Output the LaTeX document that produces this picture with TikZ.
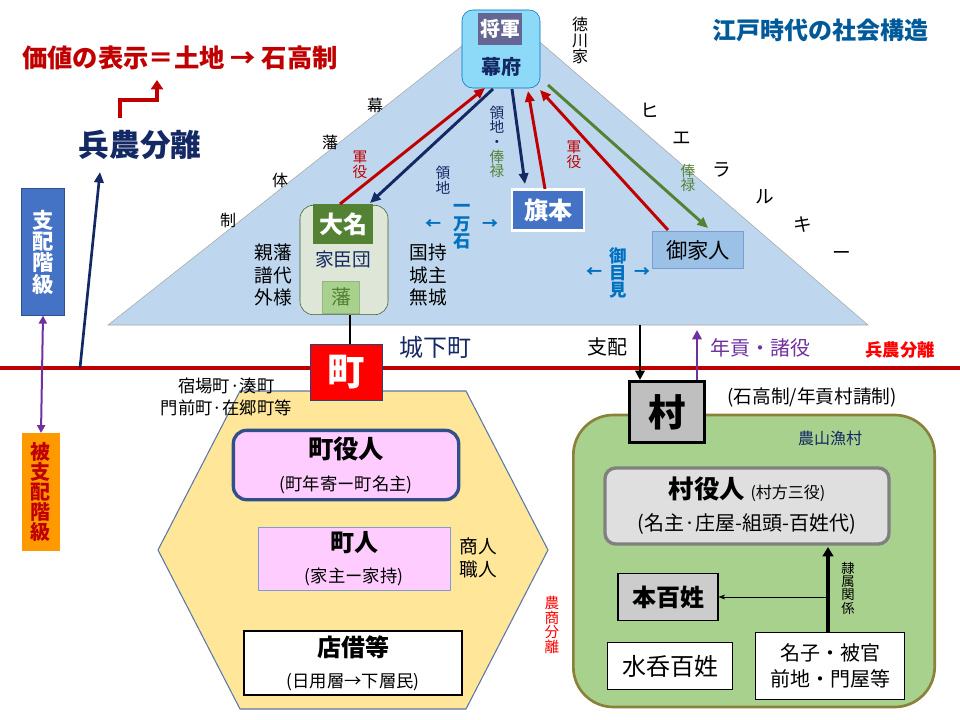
\documentclass[tikz,border=0pt]{standalone}
\usepackage{fontspec}
\setmainfont{Noto Sans CJK JP}
\usetikzlibrary{positioning,arrows.meta}
\newcommand{\fs}[1]{\fontsize{#1}{#1}\selectfont}
\definecolor{navy}{RGB}{20,40,100}
\definecolor{darkred}{RGB}{192,0,0}
\definecolor{pyramid}{RGB}{190,215,238}
\definecolor{olive}{RGB}{84,130,53}
\definecolor{gokcol}{RGB}{155,194,230}
\definecolor{hatcol}{RGB}{68,114,196}
\definecolor{vilgreen}{RGB}{169,209,142}
\definecolor{pinkbox}{RGB}{255,204,255}
\definecolor{hexcol}{RGB}{255,230,153}
\definecolor{purp}{RGB}{112,48,160}
\definecolor{linkblue}{RGB}{0,112,192}
\begin{document}
\begin{tikzpicture}[x=0.75pt,y=-0.75pt,
    vtext/.style={align=center,inner sep=0pt},
    plainbox/.style={draw,thick,align=center,inner sep=0pt},
    harrow/.style={-{Triangle[length=8pt,width=7pt]},line width=2.2pt}]
    \useasboundingbox (0,0) rectangle (960,720);
    % 背景
    \fill[pyramid,draw=gray!70] (108,325) -- (505,12) -- (868,325) -- cycle;
    \draw[darkred,line width=3pt] (0,368) -- (960,368);

    % 将軍・幕府
    \node[draw=linkblue,fill=cyan!45,rounded corners=8pt,minimum width=58.5pt,minimum height=58.5pt] (bakufu) at (501,49) {};
    \node[fill=black!70!blue!60,text=white,minimum width=33pt,minimum height=24pt,inner sep=0pt] (shogun) at (500,29) {\fs{15}\bfseries 将軍};
    \node[text=navy] at (501,67) {\fs{15}\bfseries 幕府};
    \node[vtext,font=\fs{12}] (tokugawa) at (580,40) {徳\\川\\家};
    \node[text=linkblue!80!black] (title) at (820,30) {\fs{18}\bfseries 江戸時代の社会構造};

    % 左上
    \node[text=darkred] (value) at (180,58) {\fs{19}\bfseries 価値の表示＝土地 → 石高制};
    \node[text=navy] (heino) at (140,145) {\fs{23}\bfseries 兵農分離};
    \draw[darkred,line width=2.5pt,-{Triangle[length=7pt,width=9pt]}] (120,118) -- (120,100) -- (157,100) -- (157,80);
    \coordinate (hstart) at (80,368);
    \coordinate (hend) at (100,172);
    \draw[navy,harrow,line width=2pt] (hstart) -- (hend);
    \node[fill=hatcol,text=white,vtext,font=\fs{16}\bfseries,minimum width=32pt,minimum height=95pt,draw=hatcol!70!black] (shihai) at (43,252) {支\\配\\階\\級};
    \node[fill=orange!80!yellow,text=darkred,vtext,font=\fs{15}\bfseries,minimum width=29pt,minimum height=88pt] (hishihai) at (41,492) {被\\支\\配\\階\\級};
    \draw[purp,line width=1.5pt,{Triangle[length=6pt,width=6pt]}-{Triangle[length=6pt,width=6pt]}] (shihai.south) -- (hishihai.north);

    % 幕藩体制 / ヒエラルキー
    \node (b1) at (375,105) {\fs{12}幕};
    \node (b2) at (330,142) {\fs{12}藩};
    \node (b3) at (280,180) {\fs{12}体};
    \node (b4) at (228,220) {\fs{12}制};
    \foreach \c/\x/\y in {ヒ/650/110,エ/682/138,ラ/722/170,ル/765/197,キ/803/225,ー/842/255}
        \node at (\x,\y) {\fs{14}\c};

    % 大名
    \node[draw=olive!70!black,fill=olive!20,rounded corners=10pt,minimum width=66pt,minimum height=82pt] (daimyo) at (344,260) {};
    \node[fill=olive,text=white,minimum width=45pt,minimum height=30pt,inner sep=0pt] (dname) at (343,224) {\fs{18}\bfseries 大名};
    \node[text=navy] (kashin) at (343,259) {\fs{14}家臣団};
    \node[draw=olive!60,fill=vilgreen,text=olive,minimum width=28pt,minimum height=24pt,inner sep=0pt] (han) at (341,297) {\fs{15}藩};
    \node[vtext,font=\fs{14}] (shinpan) at (273,275) {親藩\\[3pt]譜代\\[3pt]外様};
    \node[vtext,font=\fs{14}] (kunimochi) at (428,275) {国持\\[3pt]城主\\[3pt]無城};

    % 旗本・御家人
    \node[fill=hatcol,draw=white,line width=2pt,text=white,minimum width=54pt,minimum height=31pt,inner sep=0pt] (hatamoto) at (548,210) {\fs{18}\bfseries 旗本};
    \node[fill=gokcol,draw=hatcol!70,minimum width=68pt,minimum height=28pt,inner sep=0pt] (gokenin) at (698,250) {\fs{16}御家人};

    % 矢印
    \draw[darkred,harrow] (340,204) -- (485,88);
    \draw[navy,harrow] (493,89) -- (370,203);
    \draw[navy,harrow] (512,89) -- (525,184);
    \draw[darkred,harrow] (545,189) -- (528,91);
    \draw[darkred,harrow] (668,230) -- (540,90);
    \draw[olive,harrow] (548,85) -- (708,228);
    \node[vtext,text=darkred,font=\fs{11}] at (360,165) {軍\\役};
    \node[vtext,text=navy,font=\fs{11}] at (443,180) {領\\地};
    \node[vtext,font=\fs{11}] at (497,142) {\color{navy}領\\\color{navy}地\\\color{navy}・\\\color{olive}俸\\\color{olive}禄};
    \node[vtext,text=darkred,font=\fs{11}] at (574,155) {軍\\役};
    \node[vtext,text=olive,font=\fs{11}] at (688,178) {俸\\禄};
    \node[vtext,text=linkblue,font=\fs{13}\bfseries] (ichiman) at (462,227) {一\\万\\石};
    \node[text=linkblue] at (433,225) {\fs{12}\bfseries ←};
    \node[text=linkblue] at (490,225) {\fs{12}\bfseries →};
    \node[vtext,text=linkblue,font=\fs{13}\bfseries] (omemie) at (618,273) {御\\目\\見};
    \node[text=linkblue] at (594,273) {\fs{12}\bfseries ←};
    \node[text=linkblue] at (642,273) {\fs{12}\bfseries →};

    % 町
    \fill[hexcol,draw=hatcol!60!gray,thick] (240,391) -- (466,391) -- (548,550) -- (466,709) -- (240,709) -- (158,550) -- cycle;
    \node[fill=red,draw=hatcol!60!black,text=white,minimum width=54pt,minimum height=42pt,inner sep=0pt] (machi) at (346,372) {\fs{28}\bfseries 町};
    \draw[line width=2pt] (daimyo.south) ++(6,0) coordinate (dtop) -- (dtop |- machi.north);
    \node[text=navy] (joka) at (435,347) {\fs{18}城下町};
    \node[vtext,anchor=east,font=\fs{13}] (shukuba) at (292,397) {宿場町·湊町\\[3pt]門前町·在郷町等};
    \node[draw=hatcol!70!black,line width=2.5pt,fill=pinkbox,rounded corners=10pt,minimum width=169pt,minimum height=52pt,align=center,font=\fs{19}\bfseries] (machiyaku) at (346,465) {町役人\\[5pt]\fs{13}\mdseries (町年寄ー町名主)};
    \node[draw=hatcol!70,fill=pinkbox,minimum width=144pt,minimum height=46pt,align=center,font=\fs{18}\bfseries] (chonin) at (354,559) {町人\\[5pt]\fs{13}\mdseries (家主ー家持)};
    \node[vtext,font=\fs{14}] (shonin) at (478,558) {商人\\[3pt]職人};
    \node[draw,line width=1.5pt,fill=white,minimum width=164pt,minimum height=48pt,align=center,font=\fs{18}\bfseries] (tanagari) at (353,663) {店借等\\[5pt]\fs{13}\mdseries (日用層→下層民)};
    \node[vtext,text=red,font=\fs{11}] (noshou) at (552,625) {農\\商\\分\\離};

    % 村
    \node[draw=olive!50!brown,line width=2pt,fill=vilgreen,rounded corners=30pt,minimum width=271pt,minimum height=219pt] (village) at (754,561) {};
    \node[plainbox,fill=gray!50,line width=2pt,minimum width=56pt,minimum height=46pt] (mura) at (667,412) {\fs{28}\bfseries 村};
    \coordinate (shihaitop) at (640,325);
    \coordinate (nengutop) at (697,330);
    \draw[line width=2pt,-{Triangle[length=7pt,width=7pt]}] (shihaitop) -- (shihaitop |- mura.north);
    \draw[purp,line width=2pt,{Triangle[length=7pt,width=7pt]}-] (nengutop) -- (nengutop |- mura.north);
    \node (shihailbl) at (607,347) {\fs{15}支配};
    \node[text=purp] (nengu) at (760,348) {\fs{15}年貢・諸役};
    \node[text=red] (heino2) at (900,350) {\fs{13}\bfseries 兵農分離};
    \node (kokudaka) at (812,397) {\fs{14}(石高制/年貢村請制)};
    \node[text=navy] (nosan) at (830,438) {\fs{12}農山漁村};
    \node[draw=gray,line width=2.5pt,fill=gray!25,rounded corners=8pt,minimum width=213pt,minimum height=57pt,align=center,font=\fs{19}\bfseries] (murayaku) at (747,506) {村役人\ \fs{12}\mdseries(村方三役)\\[5pt]\fs{15}\mdseries(名主·庄屋-組頭-百姓代)};
    \node[plainbox,fill=gray!40,minimum width=75pt,minimum height=35pt] (honbyakusho) at (668,597) {\fs{18}\bfseries 本百姓};
    \node[plainbox,fill=white,minimum width=94pt,minimum height=35pt] (mizunomi) at (670,666) {\fs{18}水呑百姓};
    \node[plainbox,fill=white,minimum width=112pt,minimum height=50pt,font=\fs{15}] (nago) at (830,666) {名子・被官\\[4pt]前地・門屋等};
    \coordinate (rbot) at (828,633);
    \coordinate (rtop) at (828,547);
    \coordinate (rmid) at (828,597);
    \draw[line width=2.5pt,-{Triangle[length=7pt,width=8pt]}] (rbot) -- (rtop);
    \draw[-{Stealth[length=5pt]}] (rmid) -- (honbyakusho.east);
    \node[vtext,font=\fs{10}] (reizoku) at (848,588) {隷\\属\\関\\係};
\end{tikzpicture}
\end{document}
